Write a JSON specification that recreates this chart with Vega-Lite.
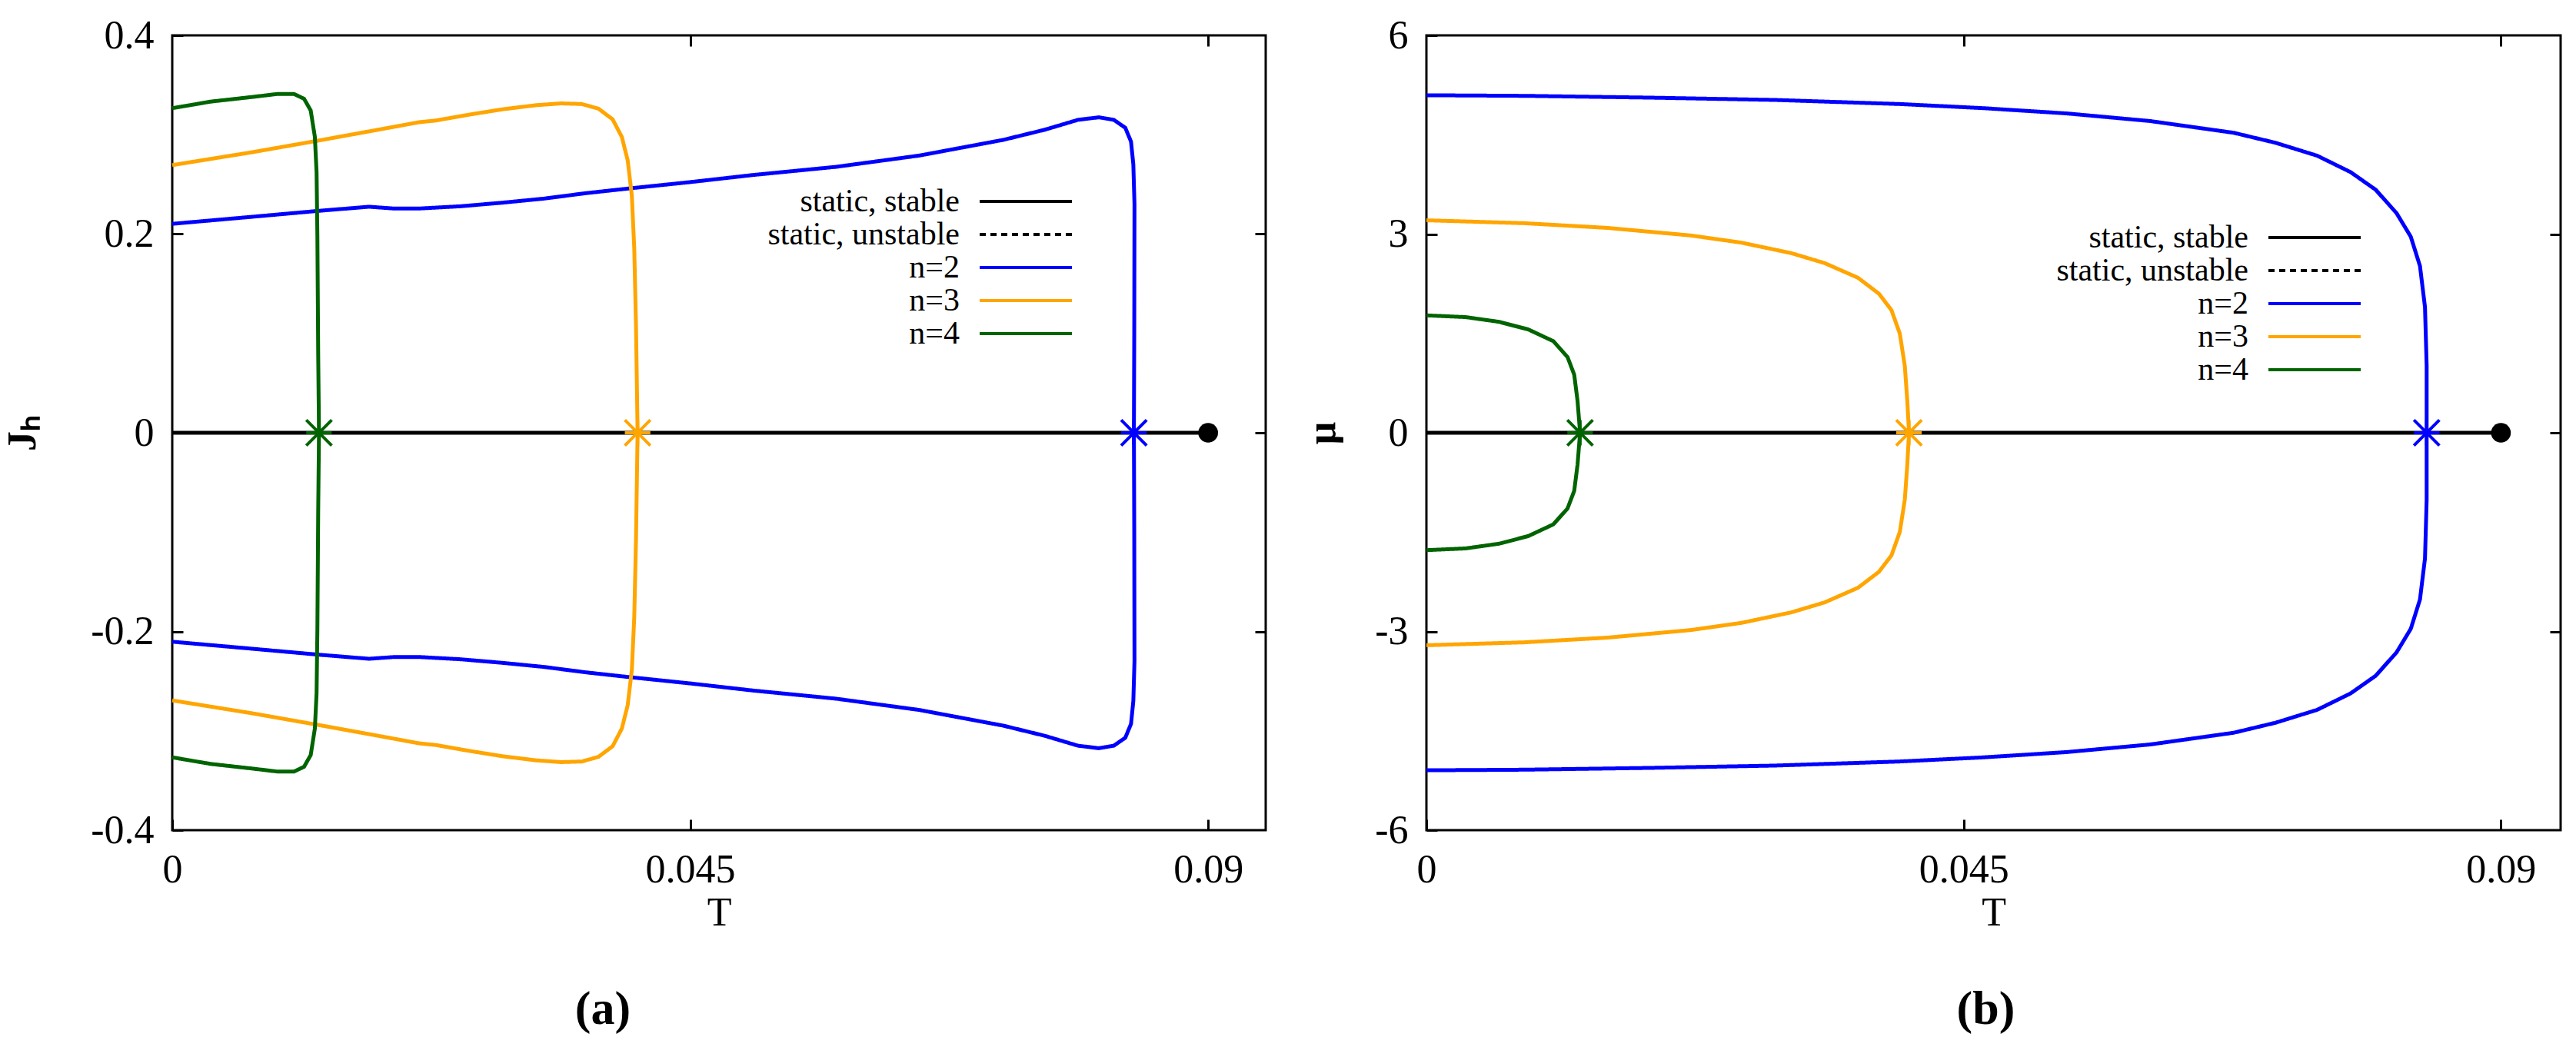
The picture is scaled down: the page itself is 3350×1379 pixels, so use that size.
{
"$schema": "https://vega.github.io/schema/vega-lite/v6.json",
"autosize": {"type": "pad"},
"padding": {"left": 2, "top": 18, "right": 0, "bottom": 0},
"background": "white",
"datasets": {
"jh": [
{"s":"static, stable","i":0,"T":0,"v":0},{"s":"static, stable","i":1,"T":0.09,"v":0},
{"s":"n=2","i":0,"T":0,"v":0.2103},{"s":"n=2","i":1,"T":0.00696,"v":0.2174},{"s":"n=2","i":2,"T":0.01275,"v":0.2234},{"s":"n=2","i":3,"T":0.0171,"v":0.2275},{"s":"n=2","i":4,"T":0.01928,"v":0.2257},{"s":"n=2","i":5,"T":0.02145,"v":0.2257},{"s":"n=2","i":6,"T":0.02507,"v":0.228},{"s":"n=2","i":7,"T":0.0287,"v":0.2316},{"s":"n=2","i":8,"T":0.0323,"v":0.2357},{"s":"n=2","i":9,"T":0.0359,"v":0.2411},{"s":"n=2","i":10,"T":0.0396,"v":0.2458},{"s":"n=2","i":11,"T":0.045,"v":0.2523},{"s":"n=2","i":12,"T":0.0505,"v":0.2595},{"s":"n=2","i":13,"T":0.0577,"v":0.2677},{"s":"n=2","i":14,"T":0.0649,"v":0.279},{"s":"n=2","i":15,"T":0.0722,"v":0.2948},{"s":"n=2","i":16,"T":0.0758,"v":0.305},{"s":"n=2","i":17,"T":0.0787,"v":0.315},{"s":"n=2","i":18,"T":0.0805,"v":0.3175},{"s":"n=2","i":19,"T":0.0818,"v":0.315},{"s":"n=2","i":20,"T":0.0828,"v":0.307},{"s":"n=2","i":21,"T":0.0833,"v":0.293},{"s":"n=2","i":22,"T":0.0835,"v":0.27},{"s":"n=2","i":23,"T":0.0836,"v":0.23},{"s":"n=2","i":24,"T":0.08358,"v":0.1},{"s":"n=2","i":25,"T":0.08355,"v":0},
{"s":"n=2","i":26,"T":0.08358,"v":-0.1},{"s":"n=2","i":27,"T":0.0836,"v":-0.23},{"s":"n=2","i":28,"T":0.0835,"v":-0.27},{"s":"n=2","i":29,"T":0.0833,"v":-0.293},{"s":"n=2","i":30,"T":0.0828,"v":-0.307},{"s":"n=2","i":31,"T":0.0818,"v":-0.315},{"s":"n=2","i":32,"T":0.0805,"v":-0.3175},{"s":"n=2","i":33,"T":0.0787,"v":-0.315},{"s":"n=2","i":34,"T":0.0758,"v":-0.305},{"s":"n=2","i":35,"T":0.0722,"v":-0.2948},{"s":"n=2","i":36,"T":0.0649,"v":-0.279},{"s":"n=2","i":37,"T":0.0577,"v":-0.2677},{"s":"n=2","i":38,"T":0.0505,"v":-0.2595},{"s":"n=2","i":39,"T":0.045,"v":-0.2523},{"s":"n=2","i":40,"T":0.0396,"v":-0.2458},{"s":"n=2","i":41,"T":0.0359,"v":-0.2411},{"s":"n=2","i":42,"T":0.0323,"v":-0.2357},{"s":"n=2","i":43,"T":0.0287,"v":-0.2316},{"s":"n=2","i":44,"T":0.02507,"v":-0.228},{"s":"n=2","i":45,"T":0.02145,"v":-0.2257},{"s":"n=2","i":46,"T":0.01928,"v":-0.2257},{"s":"n=2","i":47,"T":0.0171,"v":-0.2275},{"s":"n=2","i":48,"T":0.01275,"v":-0.2234},{"s":"n=2","i":49,"T":0.00696,"v":-0.2174},{"s":"n=2","i":50,"T":0,"v":-0.2103},
{"s":"n=3","i":0,"T":0,"v":0.2694},{"s":"n=3","i":1,"T":0.00696,"v":0.2824},{"s":"n=3","i":2,"T":0.01275,"v":0.2942},{"s":"n=3","i":3,"T":0.01783,"v":0.3049},{"s":"n=3","i":4,"T":0.02145,"v":0.3126},{"s":"n=3","i":5,"T":0.0229,"v":0.3143},{"s":"n=3","i":6,"T":0.0258,"v":0.3202},{"s":"n=3","i":7,"T":0.0287,"v":0.3256},{"s":"n=3","i":8,"T":0.0316,"v":0.3297},{"s":"n=3","i":9,"T":0.03377,"v":0.3315},{"s":"n=3","i":10,"T":0.03558,"v":0.3309},{"s":"n=3","i":11,"T":0.03703,"v":0.3262},{"s":"n=3","i":12,"T":0.03826,"v":0.3155},{"s":"n=3","i":13,"T":0.03906,"v":0.2978},{"s":"n=3","i":14,"T":0.03957,"v":0.2742},{"s":"n=3","i":15,"T":0.03993,"v":0.2387},{"s":"n=3","i":16,"T":0.04014,"v":0.1855},{"s":"n=3","i":17,"T":0.04029,"v":0.1087},{"s":"n=3","i":18,"T":0.04043,"v":0},
{"s":"n=3","i":19,"T":0.04029,"v":-0.1087},{"s":"n=3","i":20,"T":0.04014,"v":-0.1855},{"s":"n=3","i":21,"T":0.03993,"v":-0.2387},{"s":"n=3","i":22,"T":0.03957,"v":-0.2742},{"s":"n=3","i":23,"T":0.03906,"v":-0.2978},{"s":"n=3","i":24,"T":0.03826,"v":-0.3155},{"s":"n=3","i":25,"T":0.03703,"v":-0.3262},{"s":"n=3","i":26,"T":0.03558,"v":-0.3309},{"s":"n=3","i":27,"T":0.03377,"v":-0.3315},{"s":"n=3","i":28,"T":0.0316,"v":-0.3297},{"s":"n=3","i":29,"T":0.0287,"v":-0.3256},{"s":"n=3","i":30,"T":0.0258,"v":-0.3202},{"s":"n=3","i":31,"T":0.0229,"v":-0.3143},{"s":"n=3","i":32,"T":0.02145,"v":-0.3126},{"s":"n=3","i":33,"T":0.01783,"v":-0.3049},{"s":"n=3","i":34,"T":0.01275,"v":-0.2942},{"s":"n=3","i":35,"T":0.00696,"v":-0.2824},{"s":"n=3","i":36,"T":0,"v":-0.2694},
{"s":"n=4","i":0,"T":0,"v":0.3267},{"s":"n=4","i":1,"T":0.00333,"v":0.3333},{"s":"n=4","i":2,"T":0.00696,"v":0.338},{"s":"n=4","i":3,"T":0.00913,"v":0.341},{"s":"n=4","i":4,"T":0.01058,"v":0.341},{"s":"n=4","i":5,"T":0.01145,"v":0.3362},{"s":"n=4","i":6,"T":0.01203,"v":0.3244},{"s":"n=4","i":7,"T":0.01239,"v":0.2978},{"s":"n=4","i":8,"T":0.01254,"v":0.2623},{"s":"n=4","i":9,"T":0.01261,"v":0.1973},{"s":"n=4","i":10,"T":0.01268,"v":0.0792},{"s":"n=4","i":11,"T":0.01275,"v":0},
{"s":"n=4","i":12,"T":0.01268,"v":-0.0792},{"s":"n=4","i":13,"T":0.01261,"v":-0.1973},{"s":"n=4","i":14,"T":0.01254,"v":-0.2623},{"s":"n=4","i":15,"T":0.01239,"v":-0.2978},{"s":"n=4","i":16,"T":0.01203,"v":-0.3244},{"s":"n=4","i":17,"T":0.01145,"v":-0.3362},{"s":"n=4","i":18,"T":0.01058,"v":-0.341},{"s":"n=4","i":19,"T":0.00913,"v":-0.341},{"s":"n=4","i":20,"T":0.00696,"v":-0.338},{"s":"n=4","i":21,"T":0.00333,"v":-0.3333},{"s":"n=4","i":22,"T":0,"v":-0.3267}
],
"jhx": [{"s":"n=4","T":0.01275,"v":0},{"s":"n=3","T":0.04043,"v":0},{"s":"n=2","T":0.08355,"v":0}],
"mu": [
{"s":"static, stable","i":0,"T":0,"v":0},{"s":"static, stable","i":1,"T":0.09,"v":0},
{"s":"n=2","i":0,"T":0,"v":5.096},{"s":"n=2","i":1,"T":0.00818,"v":5.087},{"s":"n=2","i":2,"T":0.01867,"v":5.06},{"s":"n=2","i":3,"T":0.02916,"v":5.025},{"s":"n=2","i":4,"T":0.03965,"v":4.963},{"s":"n=2","i":5,"T":0.04664,"v":4.901},{"s":"n=2","i":6,"T":0.05364,"v":4.821},{"s":"n=2","i":7,"T":0.06063,"v":4.706},{"s":"n=2","i":8,"T":0.06762,"v":4.529},{"s":"n=2","i":9,"T":0.07112,"v":4.378},{"s":"n=2","i":10,"T":0.07461,"v":4.183},{"s":"n=2","i":11,"T":0.07741,"v":3.935},{"s":"n=2","i":12,"T":0.07951,"v":3.669},{"s":"n=2","i":13,"T":0.08126,"v":3.315},{"s":"n=2","i":14,"T":0.08245,"v":2.96},{"s":"n=2","i":15,"T":0.08322,"v":2.517},{"s":"n=2","i":16,"T":0.08364,"v":1.897},{"s":"n=2","i":17,"T":0.08378,"v":1.01},{"s":"n=2","i":18,"T":0.08378,"v":0},
{"s":"n=2","i":19,"T":0.08378,"v":-1.01},{"s":"n=2","i":20,"T":0.08364,"v":-1.897},{"s":"n=2","i":21,"T":0.08322,"v":-2.517},{"s":"n=2","i":22,"T":0.08245,"v":-2.96},{"s":"n=2","i":23,"T":0.08126,"v":-3.315},{"s":"n=2","i":24,"T":0.07951,"v":-3.669},{"s":"n=2","i":25,"T":0.07741,"v":-3.935},{"s":"n=2","i":26,"T":0.07461,"v":-4.183},{"s":"n=2","i":27,"T":0.07112,"v":-4.378},{"s":"n=2","i":28,"T":0.06762,"v":-4.529},{"s":"n=2","i":29,"T":0.06063,"v":-4.706},{"s":"n=2","i":30,"T":0.05364,"v":-4.821},{"s":"n=2","i":31,"T":0.04664,"v":-4.901},{"s":"n=2","i":32,"T":0.03965,"v":-4.963},{"s":"n=2","i":33,"T":0.02916,"v":-5.025},{"s":"n=2","i":34,"T":0.01867,"v":-5.06},{"s":"n=2","i":35,"T":0.00818,"v":-5.087},{"s":"n=2","i":36,"T":0,"v":-5.096},
{"s":"n=3","i":0,"T":0,"v":3.208},{"s":"n=3","i":1,"T":0.00818,"v":3.164},{"s":"n=3","i":2,"T":0.01517,"v":3.093},{"s":"n=3","i":3,"T":0.02217,"v":2.978},{"s":"n=3","i":4,"T":0.02636,"v":2.871},{"s":"n=3","i":5,"T":0.03056,"v":2.712},{"s":"n=3","i":6,"T":0.03336,"v":2.561},{"s":"n=3","i":7,"T":0.03615,"v":2.34},{"s":"n=3","i":8,"T":0.0379,"v":2.1},{"s":"n=3","i":9,"T":0.03895,"v":1.852},{"s":"n=3","i":10,"T":0.03965,"v":1.498},{"s":"n=3","i":11,"T":0.04007,"v":1.01},{"s":"n=3","i":12,"T":0.04028,"v":0.479},{"s":"n=3","i":13,"T":0.04042,"v":0},
{"s":"n=3","i":14,"T":0.04028,"v":-0.479},{"s":"n=3","i":15,"T":0.04007,"v":-1.01},{"s":"n=3","i":16,"T":0.03965,"v":-1.498},{"s":"n=3","i":17,"T":0.03895,"v":-1.852},{"s":"n=3","i":18,"T":0.0379,"v":-2.1},{"s":"n=3","i":19,"T":0.03615,"v":-2.34},{"s":"n=3","i":20,"T":0.03336,"v":-2.561},{"s":"n=3","i":21,"T":0.03056,"v":-2.712},{"s":"n=3","i":22,"T":0.02636,"v":-2.871},{"s":"n=3","i":23,"T":0.02217,"v":-2.978},{"s":"n=3","i":24,"T":0.01517,"v":-3.093},{"s":"n=3","i":25,"T":0.00818,"v":-3.164},{"s":"n=3","i":26,"T":0,"v":-3.208},
{"s":"n=4","i":0,"T":0,"v":1.7725},{"s":"n=4","i":1,"T":0.00329,"v":1.746},{"s":"n=4","i":2,"T":0.00608,"v":1.675},{"s":"n=4","i":3,"T":0.00853,"v":1.56},{"s":"n=4","i":4,"T":0.01063,"v":1.383},{"s":"n=4","i":5,"T":0.01182,"v":1.143},{"s":"n=4","i":6,"T":0.01238,"v":0.877},{"s":"n=4","i":7,"T":0.01266,"v":0.479},{"s":"n=4","i":8,"T":0.01287,"v":0},
{"s":"n=4","i":9,"T":0.01266,"v":-0.479},{"s":"n=4","i":10,"T":0.01238,"v":-0.877},{"s":"n=4","i":11,"T":0.01182,"v":-1.143},{"s":"n=4","i":12,"T":0.01063,"v":-1.383},{"s":"n=4","i":13,"T":0.00853,"v":-1.56},{"s":"n=4","i":14,"T":0.00608,"v":-1.675},{"s":"n=4","i":15,"T":0.00329,"v":-1.746},{"s":"n=4","i":16,"T":0,"v":-1.7725}
],
"mux": [{"s":"n=4","T":0.01287,"v":0},{"s":"n=3","T":0.04042,"v":0},{"s":"n=2","T":0.08378,"v":0}],
"dot": [{"T":0.09,"v":0}]
},
"config": {
"font": "Liberation Serif",
"view": {"stroke": "black", "strokeWidth": 3},
"axis": {"domain": false, "grid": false, "labelFont": "Liberation Serif", "labelFontSize": 52, "labelColor": "black", "titleFont": "Liberation Serif", "titleFontSize": 52, "titleColor": "black", "titleFontWeight": "normal", "tickColor": "black", "tickWidth": 3, "tickSize": -14, "labelFlush": false, "labelOverlap": false},
"axisX": {"labelPadding": 40, "titlePadding": 5},
"axisY": {"labelPadding": 38, "titleFontWeight": "bold"},
"legend": {"orient": "none", "title": null, "symbolType": "M-3,0L3,0", "symbolSize": 1600, "symbolStrokeWidth": 4, "labelAlign": "right", "labelOffset": -108, "labelFontSize": 42, "labelFont": "Liberation Serif", "labelColor": "black", "rowPadding": 0, "padding": 0, "labelLimit": 0},
"title": {"font": "Liberation Serif", "fontSize": 62, "fontWeight": "bold", "color": "black"}
},
"spacing": 43,
"resolve": {"scale": {"x": "independent", "y": "independent", "color": "independent", "strokeDash": "independent"}, "legend": {"color": "independent", "strokeDash": "independent"}},
"hconcat": [
{
"width": 1422, "height": 1034,
"title": {"text": "(a)", "orient": "bottom", "anchor": "middle", "frame": "group", "dx": -151, "offset": 70},
"layer": [
{"data": {"name": "jh"}, "mark": {"type": "line", "strokeWidth": 5},
"encoding": {
"x": {"field": "T", "type": "quantitative", "scale": {"domain": [0, 0.095], "nice": false, "zero": false}, "axis": {"orient": "bottom", "values": [0, 0.045, 0.09], "format": ".4~g", "title": "T"}},
"y": {"field": "v", "type": "quantitative", "scale": {"domain": [-0.4, 0.4], "nice": false}, "axis": {"orient": "left", "values": [-0.4, -0.2, 0, 0.2, 0.4], "format": ".4~g", "labelExpr": "replace(datum.label, '\u2212', '-')", "title": "J\u2095", "titlePadding": 61}},
"color": {"field": "s", "type": "nominal", "scale": {"domain": ["static, stable", "static, unstable", "n=2", "n=3", "n=4"], "range": ["#000000", "#000000", "#0000ff", "#ffa500", "#006400"]}, "legend": {"legendX": 1088, "legendY": 194}},
"strokeDash": {"field": "s", "type": "nominal", "scale": {"domain": ["static, stable", "static, unstable", "n=2", "n=3", "n=4"], "range": [[1, 0], [8, 6], [1, 0], [1, 0], [1, 0]]}, "legend": {"legendX": 1088, "legendY": 194}},
"order": {"field": "i", "type": "quantitative"}
}},
{"data": {"name": "jhx"}, "mark": {"type": "point", "shape": "M-1,-1L1,1M-1,1L1,-1M-1,0L1,0M0,-1L0,1", "size": 1100, "strokeWidth": 4, "filled": false, "opacity": 1},
"encoding": {
"x": {"field": "T", "type": "quantitative", "scale": {"domain": [0, 0.095], "nice": false, "zero": false}, "axis": {"orient": "top", "values": [0.045, 0.09], "labels": false, "title": null}},
"y": {"field": "v", "type": "quantitative", "scale": {"domain": [-0.4, 0.4], "nice": false}, "axis": {"orient": "right", "values": [-0.2, 0, 0.2], "labels": false, "title": null}},
"color": {"field": "s", "type": "nominal", "scale": {"domain": ["static, stable", "static, unstable", "n=2", "n=3", "n=4"], "range": ["#000000", "#000000", "#0000ff", "#ffa500", "#006400"]}, "legend": null}
}},
{"data": {"name": "dot"}, "mark": {"type": "circle", "size": 660, "color": "black", "opacity": 1},
"encoding": {
"x": {"field": "T", "type": "quantitative", "scale": {"domain": [0, 0.095], "nice": false, "zero": false}, "axis": null},
"y": {"field": "v", "type": "quantitative", "scale": {"domain": [-0.4, 0.4], "nice": false}, "axis": null}
}}
],
"resolve": {"axis": {"x": "independent", "y": "independent"}}
},
{
"width": 1475, "height": 1034,
"title": {"text": "(b)", "orient": "bottom", "anchor": "middle", "frame": "group", "dx": -10, "offset": 70},
"layer": [
{"data": {"name": "mu"}, "mark": {"type": "line", "strokeWidth": 5},
"encoding": {
"x": {"field": "T", "type": "quantitative", "scale": {"domain": [0, 0.095], "nice": false, "zero": false}, "axis": {"orient": "bottom", "values": [0, 0.045, 0.09], "format": ".4~g", "title": "T"}},
"y": {"field": "v", "type": "quantitative", "scale": {"domain": [-6, 6], "nice": false}, "axis": {"orient": "left", "values": [-6, -3, 0, 3, 6], "format": ".4~g", "labelExpr": "replace(datum.label, '\u2212', '-')", "title": "\u03bc", "titlePadding": 41}},
"color": {"field": "s", "type": "nominal", "scale": {"domain": ["static, stable", "static, unstable", "n=2", "n=3", "n=4"], "range": ["#000000", "#000000", "#0000ff", "#ffa500", "#006400"]}, "legend": {"legendX": 1133, "legendY": 241}},
"strokeDash": {"field": "s", "type": "nominal", "scale": {"domain": ["static, stable", "static, unstable", "n=2", "n=3", "n=4"], "range": [[1, 0], [8, 6], [1, 0], [1, 0], [1, 0]]}, "legend": {"legendX": 1133, "legendY": 241}},
"order": {"field": "i", "type": "quantitative"}
}},
{"data": {"name": "mux"}, "mark": {"type": "point", "shape": "M-1,-1L1,1M-1,1L1,-1M-1,0L1,0M0,-1L0,1", "size": 1100, "strokeWidth": 4, "filled": false, "opacity": 1},
"encoding": {
"x": {"field": "T", "type": "quantitative", "scale": {"domain": [0, 0.095], "nice": false, "zero": false}, "axis": {"orient": "top", "values": [0.045, 0.09], "labels": false, "title": null}},
"y": {"field": "v", "type": "quantitative", "scale": {"domain": [-6, 6], "nice": false}, "axis": {"orient": "right", "values": [-3, 0, 3], "labels": false, "title": null}},
"color": {"field": "s", "type": "nominal", "scale": {"domain": ["static, stable", "static, unstable", "n=2", "n=3", "n=4"], "range": ["#000000", "#000000", "#0000ff", "#ffa500", "#006400"]}, "legend": null}
}},
{"data": {"name": "dot"}, "mark": {"type": "circle", "size": 660, "color": "black", "opacity": 1},
"encoding": {
"x": {"field": "T", "type": "quantitative", "scale": {"domain": [0, 0.095], "nice": false, "zero": false}, "axis": null},
"y": {"field": "v", "type": "quantitative", "scale": {"domain": [-6, 6], "nice": false}, "axis": null}
}}
],
"resolve": {"axis": {"x": "independent", "y": "independent"}}
}
]
}
